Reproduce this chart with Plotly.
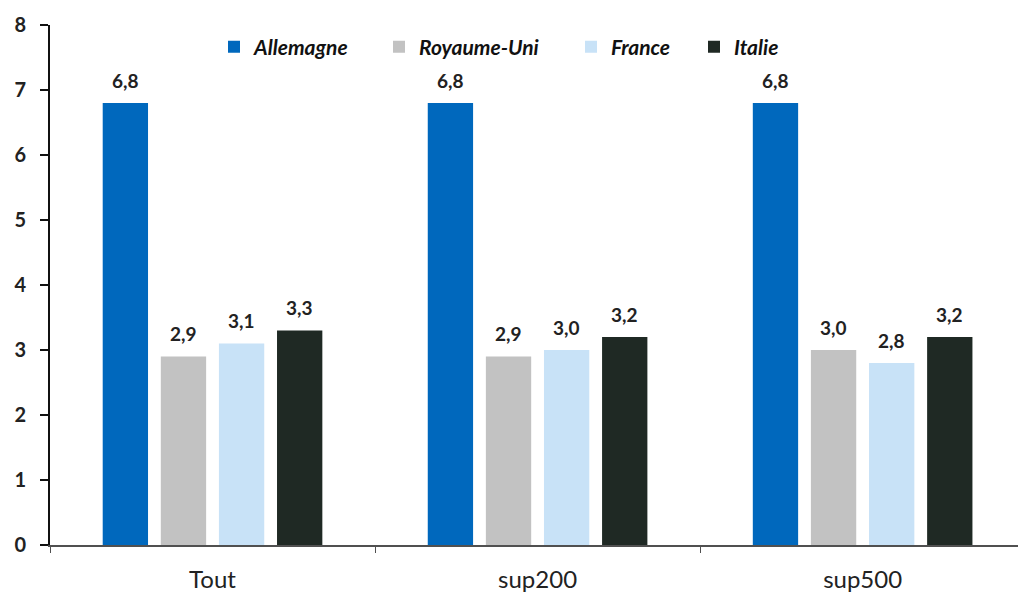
import plotly.graph_objects as go

categories = ["Tout", "sup200", "sup500"]
series_names = ["Allemagne", "Royaume-Uni", "France", "Italie"]
allemagne = [6.8, 6.8, 6.8]
royaume_uni = [2.9, 2.9, 3.0]
france = [3.1, 3.0, 2.8]
italie = [3.3, 3.2, 3.2]
y_ticks = [0, 1, 2, 3, 4, 5, 6, 7, 8]

colors = ["#0068BD", "#C2C2C2", "#C8E2F7", "#1F2924"]
values = [allemagne, royaume_uni, france, italie]

# layout geometry (pixels)
W, H = 1018, 596
ML, MR, MT, MB = 50, 0, 25, 51
BARGAP = 0.285
BARGROUPGAP = 0.22
X_RANGE = [-0.5, 2.478]

plot_w = W - ML - MR
cat_px = plot_w / (X_RANGE[1] - X_RANGE[0])
slot_px = cat_px * (1 - BARGAP) / len(series_names)

legend_ids = ["legend", "legend2", "legend3", "legend4"]
legend_x_px = [214, 379, 571, 694]

fig = go.Figure()
for k, (name, vals, col) in enumerate(zip(series_names, values, colors)):
    fig.add_trace(go.Bar(
        x=categories,
        y=vals,
        name=name,
        legend=legend_ids[k],
        marker=dict(color=col, line=dict(width=0)),
    ))
    # value labels above each bar
    for cat, v in zip(categories, vals):
        fig.add_annotation(
            x=cat, y=v, xref="x", yref="y",
            text=f"{v:.1f}".replace(".", ","),
            showarrow=False,
            xshift=(k - 1.5) * slot_px,
            yshift=23,
            yanchor="middle",
            font=dict(family="Lato", size=19, color="#222222", weight="bold"),
        )

legend_font = dict(family="Lato", size=21, color="#111111", style="italic", weight="bold")
legend_y = (H - MB - 47) / (H - MT - MB)
legends = {}
for lid, xp in zip(legend_ids, legend_x_px):
    legends[lid] = dict(
        orientation="h",
        x=(xp - ML) / plot_w,
        xanchor="left",
        y=legend_y,
        yanchor="middle",
        font=legend_font,
        itemwidth=30,
        bgcolor="rgba(0,0,0,0)",
    )

fig.update_layout(
    width=W,
    height=H,
    margin=dict(l=ML, r=MR, t=MT, b=MB),
    paper_bgcolor="white",
    plot_bgcolor="white",
    barmode="group",
    bargap=BARGAP,
    bargroupgap=BARGROUPGAP,
    showlegend=True,
    font=dict(family="Lato"),
    **legends,
)

fig.update_yaxes(
    range=[0, 8],
    tickvals=y_ticks,
    ticktext=[str(t) for t in y_ticks],
    showgrid=False,
    zeroline=False,
    showline=True,
    linecolor="#111111",
    linewidth=2,
    ticks="outside",
    ticklen=8,
    tickwidth=2,
    tickcolor="#111111",
    ticklabelstandoff=10,
    tickfont=dict(family="Lato", size=20, color="#222222", weight="bold"),
)

fig.update_xaxes(
    range=X_RANGE,
    showgrid=False,
    showline=True,
    linecolor="#505050",
    linewidth=2,
    ticks="outside",
    tickson="boundaries",
    ticklen=6,
    tickcolor="#505050",
    ticklabelstandoff=12,
    tickfont=dict(family="Lato", size=24, color="#222222"),
)

fig.write_html("out.html")
